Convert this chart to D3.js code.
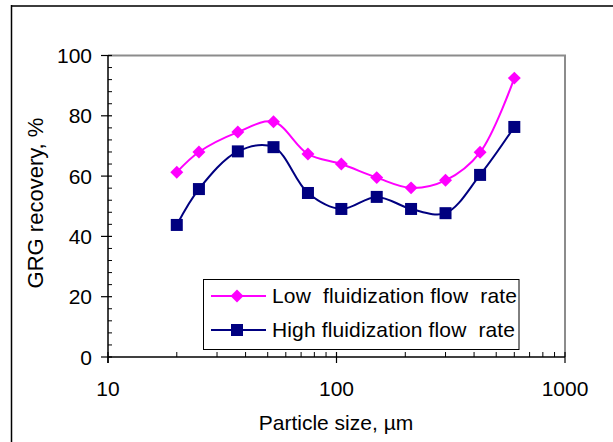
<!DOCTYPE html>
<html>
<head>
<meta charset="utf-8">
<script src="https://cdn.jsdelivr.net/npm/d3@7"></script>
<style>
  html, body { margin: 0; padding: 0; background: #fff; }
  svg { display: block; }
  text { font-family: "Liberation Sans", Arial, sans-serif; fill: #000; }
</style>
</head>
<body>
<svg id="chart" width="613" height="442"></svg>
<script>
// ---- data ----
const particleSizes = [20, 25, 37, 53, 75, 105, 150, 212, 300, 425, 600];
const lowFlowRecovery = [61.3, 68.0, 74.6, 78.0, 67.3, 64.0, 59.5, 56.1, 58.6, 67.9, 92.5];
const highFlowRecovery = [43.8, 55.7, 68.2, 69.6, 54.4, 49.1, 53.1, 49.1, 47.7, 60.4, 76.3];
const seriesNames = ["Low  fluidization flow  rate", "High fluidization flow  rate"];
const xTickValues = [10, 100, 1000];
const yTickValues = [0, 20, 40, 60, 80, 100];
const xTitle = "Particle size, µm";
const yTitle = "GRG recovery, %";

(function () {
const svg = d3.select("#chart");
const pL = 108, pR = 565, pT = 55.5, pB = 357;

const x = d3.scaleLog().domain([10, 1000]).range([pL, pR]);
const y = d3.scaleLinear().domain([0, 100]).range([pB, pT]);

// outer chart border
svg.append("line").attr("x1", 11).attr("x2", 620).attr("y1", 6).attr("y2", 6)
  .attr("stroke", "#3c3c3c").attr("stroke-width", 2);
svg.append("line").attr("x1", 11.5).attr("x2", 11.5).attr("y1", 5).attr("y2", 450)
  .attr("stroke", "#000").attr("stroke-width", 1.5);

// plot area border (top, right) gray
svg.append("path")
  .attr("d", `M${pL},${pT}H${pR}V${pB}`)
  .attr("fill", "none").attr("stroke", "#8c8c8c").attr("stroke-width", 2);

// Y axis
const yMinor = d3.range(0, 101, 4).filter(v => v % 20 !== 0);
const yAxisG = svg.append("g");
yAxisG.selectAll("line.minor").data(yMinor).join("line")
  .attr("x1", pL).attr("x2", pL + 4)
  .attr("y1", d => y(d)).attr("y2", d => y(d))
  .attr("stroke", "#000").attr("stroke-width", 1);
yAxisG.selectAll("line.major").data(yTickValues).join("line")
  .attr("x1", pL - 7).attr("x2", pL + 4)
  .attr("y1", d => y(d)).attr("y2", d => y(d))
  .attr("stroke", "#000").attr("stroke-width", 1.2);
yAxisG.selectAll("text").data(yTickValues).join("text")
  .attr("x", 92).attr("y", d => y(d) + 7.5)
  .attr("text-anchor", "end").attr("font-size", 21)
  .text(d => d);
yAxisG.append("line").attr("x1", pL).attr("x2", pL).attr("y1", pT).attr("y2", pB + 6)
  .attr("stroke", "#000").attr("stroke-width", 1.5);

// X axis
const xMinor = [];
[10, 100].forEach(dec => { for (let k = 2; k <= 9; k++) xMinor.push(dec * k); });
const xAxisG = svg.append("g");
xAxisG.selectAll("line.minor").data(xMinor).join("line")
  .attr("x1", d => x(d)).attr("x2", d => x(d))
  .attr("y1", pB).attr("y2", pB - 5)
  .attr("stroke", "#000").attr("stroke-width", 1);
xAxisG.selectAll("line.major").data(xTickValues).join("line")
  .attr("x1", d => x(d)).attr("x2", d => x(d))
  .attr("y1", pB - 5).attr("y2", pB + 6)
  .attr("stroke", "#000").attr("stroke-width", 1.2);
xAxisG.selectAll("text").data(xTickValues).join("text")
  .attr("x", d => x(d)).attr("y", 396)
  .attr("text-anchor", "middle").attr("font-size", 21)
  .text(d => d);
xAxisG.append("line").attr("x1", pL).attr("x2", pR).attr("y1", pB).attr("y2", pB)
  .attr("stroke", "#000").attr("stroke-width", 1.5);

// axis titles
svg.append("text").attr("x", 336).attr("y", 430).attr("text-anchor", "middle")
  .attr("font-size", 21).text(xTitle);
svg.append("text").attr("transform", "translate(43,203) rotate(-90)")
  .attr("text-anchor", "middle").attr("font-size", 22).text(yTitle);

// series
const line = d3.line().curve(d3.curveCatmullRom.alpha(0.5))
  .x(d => x(d[0])).y(d => y(d[1]));
const lowPts = particleSizes.map((s, i) => [s, lowFlowRecovery[i]]);
const highPts = particleSizes.map((s, i) => [s, highFlowRecovery[i]]);

const magenta = "#ff00ff", navy = "#000080";
const diamond = d3.symbol().type(d3.symbolSquare).size(84);

svg.append("path").attr("d", line(highPts)).attr("fill", "none")
  .attr("stroke", navy).attr("stroke-width", 2);
svg.selectAll("rect.high").data(highPts).join("rect")
  .attr("x", d => x(d[0]) - 6).attr("y", d => y(d[1]) - 6)
  .attr("width", 12).attr("height", 12).attr("fill", navy);

svg.append("path").attr("d", line(lowPts)).attr("fill", "none")
  .attr("stroke", magenta).attr("stroke-width", 2);
svg.selectAll("path.low").data(lowPts).join("path")
  .attr("transform", d => `translate(${x(d[0])},${y(d[1])}) rotate(45)`)
  .attr("d", diamond).attr("fill", magenta);

// legend
const lg = svg.append("g");
lg.append("rect").attr("x", 203.5).attr("y", 279.5).attr("width", 315.5).attr("height", 70)
  .attr("fill", "#fff").attr("stroke", "#000").attr("stroke-width", 1);
const rows = [
  { name: seriesNames[0], color: magenta, cy: 296, type: "diamond" },
  { name: seriesNames[1], color: navy, cy: 330, type: "square" }
];
rows.forEach(r => {
  lg.append("line").attr("x1", 211).attr("x2", 266).attr("y1", r.cy).attr("y2", r.cy)
    .attr("stroke", r.color).attr("stroke-width", 2);
  if (r.type === "diamond") {
    lg.append("path").attr("transform", `translate(237,${r.cy}) rotate(45)`)
      .attr("d", diamond).attr("fill", r.color);
  } else {
    lg.append("rect").attr("x", 231).attr("y", r.cy - 6).attr("width", 12).attr("height", 12)
      .attr("fill", r.color);
  }
  lg.append("text").attr("x", 272).attr("y", r.cy + 6.5).attr("font-size", 21)
    .attr("textLength", r.type === "diamond" ? 245 : 243).attr("lengthAdjust", "spacing")
    .style("white-space", "pre").text(r.name);
});
})();
</script>
</body>
</html>
